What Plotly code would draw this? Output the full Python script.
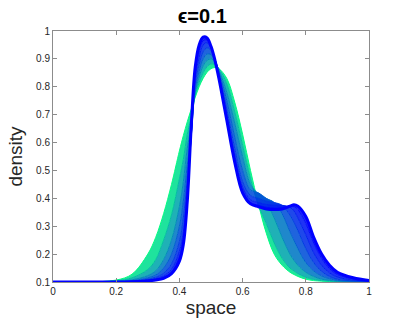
import plotly.graph_objects as go

# malla espacial compartida
x_space = [0, 0.1, 0.2, 0.25, 0.3, 0.325, 0.35, 0.375, 0.4, 0.4125, 0.425, 0.4375,
           0.45, 0.4625, 0.475, 0.4875, 0.5, 0.5125, 0.525, 0.55, 0.575, 0.6, 0.625,
           0.65, 0.675, 0.7, 0.725, 0.75, 0.7625, 0.775, 0.8, 0.825, 0.85, 0.875,
           0.9, 0.95, 1.0]

# densidades (de la primera curva, verde, a la ultima, azul)
dens_0 = [0.1, 0.1, 0.107, 0.128, 0.2, 0.26, 0.345, 0.45, 0.57, 0.625, 0.675, 0.72,
          0.762, 0.8, 0.83, 0.852, 0.865, 0.869, 0.865, 0.83, 0.745, 0.63, 0.5,
          0.38, 0.275, 0.2, 0.16, 0.135, 0.127, 0.12, 0.11, 0.105, 0.103, 0.102,
          0.101, 0.1, 0.1]
dens_1 = [0.1, 0.1, 0.105, 0.115, 0.145, 0.18, 0.25, 0.34, 0.47, 0.54, 0.63, 0.69,
          0.77, 0.815, 0.85, 0.872, 0.882, 0.88, 0.865, 0.81, 0.71, 0.59, 0.47,
          0.375, 0.31, 0.24, 0.185, 0.15, 0.14, 0.13, 0.117, 0.109, 0.105, 0.103,
          0.102, 0.1, 0.1]
dens_2 = [0.1, 0.1, 0.103, 0.108, 0.123, 0.14, 0.18, 0.25, 0.37, 0.46, 0.58, 0.66,
          0.78, 0.835, 0.875, 0.895, 0.9, 0.89, 0.86, 0.78, 0.67, 0.55, 0.45,
          0.415, 0.385, 0.33, 0.26, 0.2, 0.178, 0.16, 0.135, 0.12, 0.11, 0.106,
          0.103, 0.101, 0.1]
dens_3 = [0.1, 0.1, 0.102, 0.105, 0.115, 0.125, 0.15, 0.2, 0.3, 0.39, 0.52, 0.63,
          0.79, 0.855, 0.9, 0.918, 0.915, 0.895, 0.855, 0.75, 0.62, 0.5, 0.43,
          0.42, 0.4, 0.385, 0.345, 0.28, 0.25, 0.22, 0.17, 0.14, 0.122, 0.112,
          0.106, 0.102, 0.101]
dens_4 = [0.1, 0.1, 0.101, 0.103, 0.11, 0.117, 0.132, 0.165, 0.245, 0.33, 0.47, 0.62,
          0.81, 0.88, 0.925, 0.94, 0.93, 0.9, 0.85, 0.72, 0.58, 0.46, 0.41,
          0.4, 0.39, 0.385, 0.375, 0.34, 0.315, 0.285, 0.22, 0.17, 0.138, 0.12,
          0.11, 0.104, 0.102]
dens_5 = [0.1, 0.1, 0.1, 0.102, 0.107, 0.112, 0.122, 0.145, 0.21, 0.28, 0.43, 0.62,
          0.83, 0.905, 0.95, 0.958, 0.94, 0.9, 0.843, 0.7, 0.555, 0.44, 0.395,
          0.385, 0.378, 0.375, 0.375, 0.368, 0.355, 0.33, 0.27, 0.205, 0.16, 0.133,
          0.118, 0.107, 0.103]
dens_6 = [0.1, 0.1, 0.1, 0.101, 0.105, 0.109, 0.116, 0.135, 0.19, 0.25, 0.4, 0.63,
          0.85, 0.93, 0.965, 0.968, 0.943, 0.898, 0.836, 0.69, 0.54, 0.425, 0.385,
          0.375, 0.368, 0.366, 0.366, 0.372, 0.37, 0.36, 0.31, 0.24, 0.185, 0.148,
          0.127, 0.111, 0.104]
dens_7 = [0.1, 0.1, 0.1, 0.101, 0.104, 0.107, 0.113, 0.13, 0.175, 0.235, 0.39, 0.66,
          0.87, 0.95, 0.978, 0.975, 0.945, 0.895, 0.83, 0.68, 0.53, 0.42, 0.38,
          0.37, 0.362, 0.36, 0.362, 0.372, 0.377, 0.372, 0.335, 0.26, 0.2, 0.16,
          0.135, 0.115, 0.105]

curvas = [dens_0, dens_1, dens_2, dens_3, dens_4, dens_5, dens_6, dens_7]
avance = [0, 0.25, 0.45, 0.62, 0.76, 0.87, 0.95, 1.0]  # posicion en el mapa de color


def color_de(p):
    return 0, int(round(255 * (1 - p))), int(round(128 + 127 * p))


fig = go.Figure()
for k, (y, p) in enumerate(zip(curvas, avance)):
    r, g, b = color_de(p)
    # relleno entre la curva anterior y esta, con el color intermedio
    pm = (p + avance[k - 1]) / 2 if k > 0 else p
    _, gm, bm = color_de(pm)
    fig.add_trace(go.Scatter(
        x=x_space, y=y, mode="lines",
        line=dict(color=f"rgb({r},{g},{b})", width=3 if k == len(curvas) - 1 else 1,
                  shape="spline"),
        fill="tonexty" if k > 0 else None,
        fillcolor=f"rgba(0,{gm},{bm},0.88)",
        showlegend=False, hoverinfo="skip"))

eje = dict(showline=True, linecolor="#8c8c8c", linewidth=1, mirror="allticks",
           ticks="inside", ticklen=4, tickcolor="#8c8c8c", showgrid=False, zeroline=False,
           automargin=False,
           tickfont=dict(family="Liberation Sans, Arial", size=10, color="#262626"))

fig.update_layout(
    width=407, height=325,
    margin=dict(l=53, r=38, t=31, b=43),
    plot_bgcolor="white", paper_bgcolor="white",
    title=dict(text="<b>ϵ=0.1</b>", x=0.497, xref="container", xanchor="center",
               y=0.95, yanchor="middle",
               font=dict(family="Liberation Sans, Arial", size=20, color="#000000")),
    xaxis=dict(eje, range=[0, 1], tickvals=[0, 0.2, 0.4, 0.6, 0.8, 1],
               ticktext=["0", "0.2", "0.4", "0.6", "0.8", "1"],
               title=dict(text="space", standoff=4,
                          font=dict(family="Liberation Sans, Arial", size=19, color="#262626"))),
    yaxis=dict(eje, range=[0.1, 1], tickvals=[0.1, 0.2, 0.3, 0.4, 0.5, 0.6, 0.7, 0.8, 0.9, 1],
               ticktext=["0.1", "0.2", "0.3", "0.4", "0.5", "0.6", "0.7", "0.8", "0.9", "1"],
               title=dict(text="density", standoff=8,
                          font=dict(family="Liberation Sans, Arial", size=19, color="#262626"))),
)

# sin margen del body para que la figura quede en la esquina
fig.write_html("out.html", config={"displayModeBar": False},
               post_script="document.body.style.margin='0px';")
